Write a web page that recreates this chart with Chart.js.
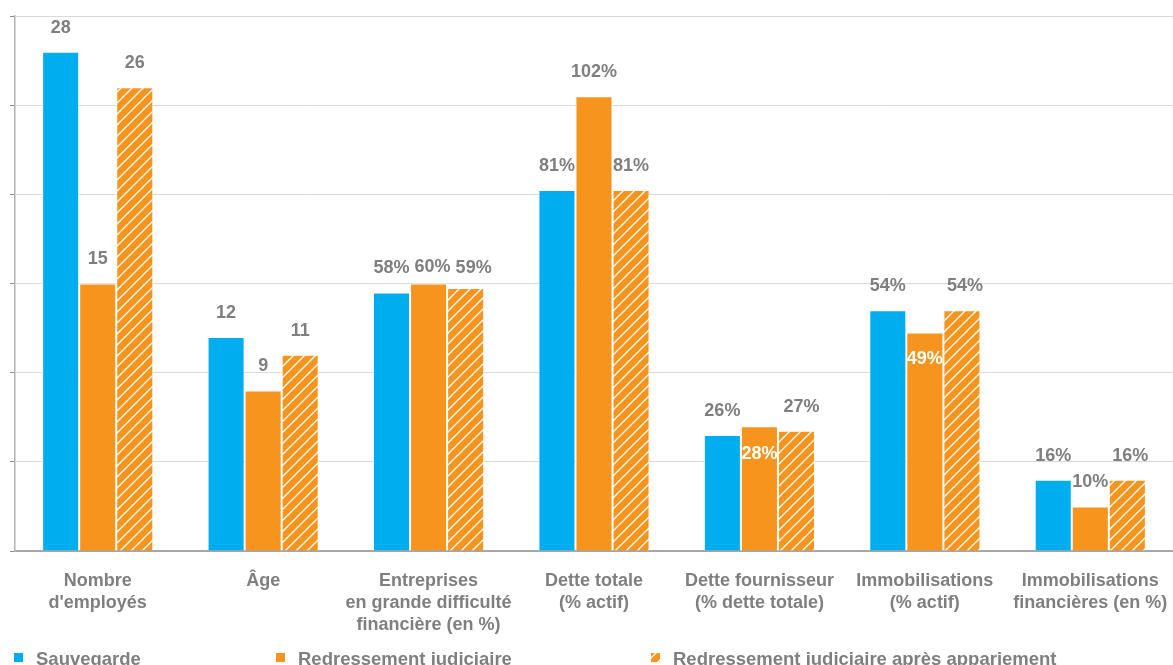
<!DOCTYPE html>
<html>
<head>
<meta charset="utf-8">
<script src="https://cdn.jsdelivr.net/npm/chart.js@4"></script>
<style>
  html, body { margin: 0; padding: 0; background: #fff; }
  #wrap { width: 1173px; height: 665px; }
</style>
</head>
<body>
<div id="wrap"><canvas id="procPlot" width="1173" height="665"></canvas></div>
<script>
const categories = [
    ['Nombre', "d'employés"],
    'Âge',
    ['Entreprises', 'en grande difficulté', 'financière (en %)'],
    ['Dette totale', '(% actif)'],
    ['Dette fournisseur', '(% dette totale)'],
    ['Immobilisations', '(% actif)'],
    ['Immobilisations', 'financières (en %)']
]
// '' = effectif / années, '%' = pourcentage (tracé au quart sur le même axe)
const units = ['', '', '%', '%', '%', '%', '%']

const sauvegarde = [28, 12, 58, 81, 26, 54, 16]
const redressement = [15, 9, 60, 102, 28, 49, 10]
const redressementApparie = [26, 11, 59, 81, 27, 54, 16]

const seriesNames = ['Sauvegarde', 'Redressement judiciaire', 'Redressement judiciaire après appariement']

const BLUE = '#00aeef'
const ORANGE = '#f7941d'
const GREY_TEXT = '#7f7f7f'
const FONT = '"Liberation Sans", Arial, sans-serif'

const toAxis = (values) => values.map((v, i) => units[i] === '%' ? v / 4 : v)

const makeHatch = () => {
    const size = 11
    const c = document.createElement('canvas')
    c.width = size
    c.height = size
    const g = c.getContext('2d')
    g.fillStyle = ORANGE
    g.fillRect(0, 0, size, size)
    g.strokeStyle = '#fff'
    g.lineWidth = 1.3
    g.beginPath()
    g.moveTo(-1, size + 1); g.lineTo(size + 1, -1)
    g.moveTo(-1, 1); g.lineTo(1, -1)
    g.moveTo(size - 1, size + 1); g.lineTo(size + 1, size - 1)
    g.stroke()
    return g.createPattern(c, 'repeat')
}
const hatch = makeHatch()

// label placement tweaks: [dataset-index] -> offset above bar top (negative = inside), shift, colour
const labelTweaks = {
    '1-2': { offset: 16, dx: 4 },
    '2-2': { offset: 20, dx: 8 },
    '2-4': { dx: 5 },
    '2-5': { dx: 3 },
    '2-6': { dx: 3 },
    '1-4': { offset: -28, color: '#fff' },
    '1-5': { offset: -26, color: '#fff' }
}

const valueLabels = {
    id: 'valueLabels',
    afterDatasetsDraw(chart) {
        const ctx = chart.ctx
        const raw = [sauvegarde, redressement, redressementApparie]
        ctx.save()
        ctx.font = 'bold 18px ' + FONT
        ctx.textAlign = 'center'
        ctx.textBaseline = 'middle'
        chart.data.datasets.forEach((ds, d) => {
            chart.getDatasetMeta(d).data.forEach((bar, i) => {
                const tw = labelTweaks[d + '-' + i] || {}
                const offset = tw.offset !== undefined ? tw.offset : 24
                ctx.fillStyle = tw.color || GREY_TEXT
                ctx.fillText(raw[d][i] + units[i], bar.x + (tw.dx || 0), bar.y - offset)
            })
        })
        ctx.restore()
    }
}

const bottomLegend = {
    id: 'bottomLegend',
    afterDraw(chart) {
        const ctx = chart.ctx
        const xs = [14, 276, 651]
        const fills = [BLUE, ORANGE, hatch]
        const y = 660
        ctx.save()
        ctx.font = 'bold 18.5px ' + FONT
        ctx.textBaseline = 'middle'
        ctx.textAlign = 'left'
        seriesNames.forEach((name, k) => {
            ctx.fillStyle = fills[k]
            ctx.fillRect(xs[k], y - 7, 9, 9)
            ctx.fillStyle = GREY_TEXT
            ctx.fillText(name, xs[k] + 22, y)
        })
        ctx.restore()
    }
}

const barStyle = {
    borderColor: '#ffffff',
    borderWidth: 1,
    categoryPercentage: 0.672,
    barPercentage: 1
}

new Chart(document.getElementById('procPlot'), {
    type: 'bar',
    data: {
        labels: categories,
        datasets: [
            { label: seriesNames[0], data: toAxis(sauvegarde), backgroundColor: BLUE, ...barStyle },
            { label: seriesNames[1], data: toAxis(redressement), backgroundColor: ORANGE, ...barStyle },
            { label: seriesNames[2], data: toAxis(redressementApparie), backgroundColor: hatch, ...barStyle }
        ]
    },
    plugins: [valueLabels, bottomLegend],
    options: {
        responsive: false,
        animation: false,
        events: [],
        layout: { padding: { top: 16, right: 0, bottom: 0, left: 0 } },
        plugins: {
            legend: { display: false },
            tooltip: { enabled: false }
        },
        scales: {
            x: {
                afterFit: (s) => {
                    s.height = 114
                    s.paddingLeft = 0
                    s.paddingRight = 0
                },
                grid: { display: true, drawOnChartArea: false, drawTicks: false },
                border: { display: true, color: '#a6a6a6', width: 2 },
                ticks: {
                    autoSkip: false,
                    maxRotation: 0,
                    padding: 19,
                    color: GREY_TEXT,
                    font: { family: FONT, size: 18, weight: 'bold', lineHeight: 1.22 }
                }
            },
            y: {
                min: 0,
                max: 30,
                afterFit: (s) => { s.width = 15 },
                ticks: { display: false, stepSize: 5 },
                grid: { color: '#d9d9d9', tickColor: '#8c8c8c', tickLength: 5, lineWidth: 1 },
                border: { display: true, color: '#b3b3b3', width: 1.5 }
            }
        }
    }
})
</script>
</body>
</html>
